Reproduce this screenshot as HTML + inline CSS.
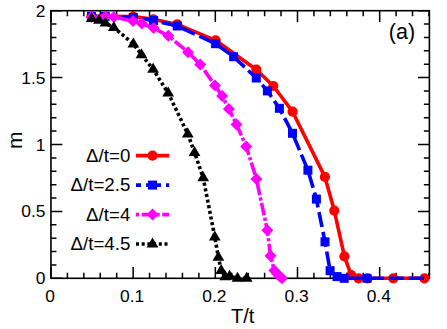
<!DOCTYPE html><html><head><meta charset="utf-8"><style>html,body{margin:0;padding:0;background:#fff}svg{display:block}</style></head><body><svg width="447" height="329" viewBox="0 0 447 329">
<rect width="447" height="329" fill="#fff"/>
<defs><clipPath id="c"><rect x="50.95" y="4.699999999999999" width="384.45" height="279.6"/></clipPath></defs>
<path d="M50.95,278.3v-11.4M50.95,10.7v11.4M67.39,278.3v-5.5M67.39,10.7v5.5M83.82,278.3v-5.5M83.82,10.7v5.5M100.26,278.3v-5.5M100.26,10.7v5.5M116.69,278.3v-5.5M116.69,10.7v5.5M133.13,278.3v-11.4M133.13,10.7v11.4M149.57,278.3v-5.5M149.57,10.7v5.5M166.00,278.3v-5.5M166.00,10.7v5.5M182.44,278.3v-5.5M182.44,10.7v5.5M198.87,278.3v-5.5M198.87,10.7v5.5M215.31,278.3v-11.4M215.31,10.7v11.4M231.75,278.3v-5.5M231.75,10.7v5.5M248.18,278.3v-5.5M248.18,10.7v5.5M264.62,278.3v-5.5M264.62,10.7v5.5M281.05,278.3v-5.5M281.05,10.7v5.5M297.49,278.3v-11.4M297.49,10.7v11.4M313.93,278.3v-5.5M313.93,10.7v5.5M330.36,278.3v-5.5M330.36,10.7v5.5M346.80,278.3v-5.5M346.80,10.7v5.5M363.23,278.3v-5.5M363.23,10.7v5.5M379.67,278.3v-11.4M379.67,10.7v11.4M396.11,278.3v-5.5M396.11,10.7v5.5M412.54,278.3v-5.5M412.54,10.7v5.5M428.98,278.3v-5.5M428.98,10.7v5.5M50.95,278.30h11.4M429.4,278.30h-11.4M50.95,264.92h5.5M429.4,264.92h-5.5M50.95,251.54h5.5M429.4,251.54h-5.5M50.95,238.16h5.5M429.4,238.16h-5.5M50.95,224.78h5.5M429.4,224.78h-5.5M50.95,211.40h11.4M429.4,211.40h-11.4M50.95,198.02h5.5M429.4,198.02h-5.5M50.95,184.64h5.5M429.4,184.64h-5.5M50.95,171.26h5.5M429.4,171.26h-5.5M50.95,157.88h5.5M429.4,157.88h-5.5M50.95,144.50h11.4M429.4,144.50h-11.4M50.95,131.12h5.5M429.4,131.12h-5.5M50.95,117.74h5.5M429.4,117.74h-5.5M50.95,104.36h5.5M429.4,104.36h-5.5M50.95,90.98h5.5M429.4,90.98h-5.5M50.95,77.60h11.4M429.4,77.60h-11.4M50.95,64.22h5.5M429.4,64.22h-5.5M50.95,50.84h5.5M429.4,50.84h-5.5M50.95,37.46h5.5M429.4,37.46h-5.5M50.95,24.08h5.5M429.4,24.08h-5.5M50.95,10.70h11.4M429.4,10.70h-11.4" stroke="#000" stroke-width="1.5" fill="none"/>
<rect x="50.95" y="10.7" width="378.45" height="267.6" fill="none" stroke="#000" stroke-width="1.6"/>
<g clip-path="url(#c)">
<polyline points="91.4,16.3 133.2,16.6 153.3,19.3 177.2,24.4 215.6,40.3 256.4,69.7 273.3,86.0 292.6,111.7 324.9,176.9 334.3,210.6 344.4,256.3 351.2,275.2 358.5,278.3 367.5,278.3 393.3,278.3 424.4,278.3" fill="none" stroke="#f00" stroke-width="3.6" stroke-linejoin="round"/>
<circle cx="91.4" cy="16.3" r="5.1" fill="#f00"/>
<circle cx="133.2" cy="16.6" r="5.1" fill="#f00"/>
<circle cx="153.3" cy="19.3" r="5.1" fill="#f00"/>
<circle cx="177.2" cy="24.4" r="5.1" fill="#f00"/>
<circle cx="215.6" cy="40.3" r="5.1" fill="#f00"/>
<circle cx="256.4" cy="69.7" r="5.1" fill="#f00"/>
<circle cx="273.3" cy="86" r="5.1" fill="#f00"/>
<circle cx="292.6" cy="111.7" r="5.1" fill="#f00"/>
<circle cx="324.9" cy="176.9" r="5.1" fill="#f00"/>
<circle cx="334.3" cy="210.6" r="5.1" fill="#f00"/>
<circle cx="344.4" cy="256.3" r="5.1" fill="#f00"/>
<circle cx="351.2" cy="275.2" r="5.1" fill="#f00"/>
<circle cx="358.5" cy="278.3" r="5.1" fill="#f00"/>
<circle cx="367.5" cy="278.3" r="5.1" fill="#f00"/>
<circle cx="393.3" cy="278.3" r="5.1" fill="#f00"/>
<circle cx="424.4" cy="278.3" r="5.1" fill="#f00"/>
<polyline points="91.5,16.4 105.2,16.4 133.3,17.5 153.6,20.5 177.2,26.0 215.6,43.7 233.6,56.7 256.3,78.0 267.4,90.9 279.4,108.3 292.5,133.3 307.9,170.2 316.4,199.1 325.0,241.8 330.1,270.7 337.0,276.6 344.2,278.3 367.0,278.3 424.4,278.3" fill="none" stroke="#00f" stroke-width="3.6" stroke-dasharray="15.2 4.89" stroke-dashoffset="9.6" stroke-linejoin="round"/>
<rect x="87.0" y="11.9" width="9" height="9" fill="#00f"/>
<rect x="100.7" y="11.9" width="9" height="9" fill="#00f"/>
<rect x="128.8" y="13.0" width="9" height="9" fill="#00f"/>
<rect x="149.1" y="16.0" width="9" height="9" fill="#00f"/>
<rect x="172.7" y="21.5" width="9" height="9" fill="#00f"/>
<rect x="211.1" y="39.2" width="9" height="9" fill="#00f"/>
<rect x="229.1" y="52.2" width="9" height="9" fill="#00f"/>
<rect x="251.8" y="73.5" width="9" height="9" fill="#00f"/>
<rect x="262.9" y="86.4" width="9" height="9" fill="#00f"/>
<rect x="274.9" y="103.8" width="9" height="9" fill="#00f"/>
<rect x="288.0" y="128.8" width="9" height="9" fill="#00f"/>
<rect x="303.4" y="165.7" width="9" height="9" fill="#00f"/>
<rect x="311.9" y="194.6" width="9" height="9" fill="#00f"/>
<rect x="320.5" y="237.3" width="9" height="9" fill="#00f"/>
<rect x="325.6" y="266.2" width="9" height="9" fill="#00f"/>
<rect x="332.5" y="272.1" width="9" height="9" fill="#00f"/>
<rect x="339.7" y="273.8" width="9" height="9" fill="#00f"/>
<rect x="362.5" y="273.8" width="9" height="9" fill="#00f"/>
<polyline points="91.6,16.9 105.3,16.5 113.8,17.1 133.0,21.1 141.8,23.6 153.6,28.0 168.3,35.8 188.0,52.2 200.2,64.4 215.0,85.5 222.1,96.0 228.9,108.9 236.5,124.6 246.2,146.4 256.4,179.0 267.3,230.2 270.5,255.7 274.3,270.5 277.0,273.7 279.5,276.2 282.0,278.3" fill="none" stroke="#f0f" stroke-width="3.6" stroke-dasharray="3.2 2.4 12.8 2.4" stroke-linejoin="round"/>
<path d="M85.6,16.9L91.6,10.9L97.6,16.9L91.6,22.9z" fill="#f0f"/>
<path d="M99.3,16.5L105.3,10.5L111.3,16.5L105.3,22.5z" fill="#f0f"/>
<path d="M107.8,17.1L113.8,11.1L119.8,17.1L113.8,23.1z" fill="#f0f"/>
<path d="M127.0,21.1L133.0,15.1L139.0,21.1L133.0,27.1z" fill="#f0f"/>
<path d="M135.8,23.6L141.8,17.6L147.8,23.6L141.8,29.6z" fill="#f0f"/>
<path d="M147.6,28.0L153.6,22.0L159.6,28.0L153.6,34.0z" fill="#f0f"/>
<path d="M162.3,35.8L168.3,29.8L174.3,35.8L168.3,41.8z" fill="#f0f"/>
<path d="M182.0,52.2L188.0,46.2L194.0,52.2L188.0,58.2z" fill="#f0f"/>
<path d="M194.2,64.4L200.2,58.4L206.2,64.4L200.2,70.4z" fill="#f0f"/>
<path d="M209.0,85.5L215.0,79.5L221.0,85.5L215.0,91.5z" fill="#f0f"/>
<path d="M216.1,96.0L222.1,90.0L228.1,96.0L222.1,102.0z" fill="#f0f"/>
<path d="M222.9,108.9L228.9,102.9L234.9,108.9L228.9,114.9z" fill="#f0f"/>
<path d="M230.5,124.6L236.5,118.6L242.5,124.6L236.5,130.6z" fill="#f0f"/>
<path d="M240.2,146.4L246.2,140.4L252.2,146.4L246.2,152.4z" fill="#f0f"/>
<path d="M250.4,179.0L256.4,173.0L262.4,179.0L256.4,185.0z" fill="#f0f"/>
<path d="M261.3,230.2L267.3,224.2L273.3,230.2L267.3,236.2z" fill="#f0f"/>
<path d="M264.5,255.7L270.5,249.7L276.5,255.7L270.5,261.7z" fill="#f0f"/>
<path d="M268.3,270.5L274.3,264.5L280.3,270.5L274.3,276.5z" fill="#f0f"/>
<path d="M271.0,273.7L277.0,267.7L283.0,273.7L277.0,279.7z" fill="#f0f"/>
<path d="M273.5,276.2L279.5,270.2L285.5,276.2L279.5,282.2z" fill="#f0f"/>
<path d="M276.0,278.3L282.0,272.3L288.0,278.3L282.0,284.3z" fill="#f0f"/>
<polyline points="91.7,18.4 99.0,20.3 105.4,23.1 113.8,27.6 133.4,43.9 141.5,54.7 153.1,69.3 168.2,93.1 187.8,134.0 194.5,152.4 203.2,177.8 214.8,237.0 218.4,257.3 221.2,270.4 225.2,276.7 229.6,276.2 237.5,278.2 246.7,278.2" fill="none" stroke="#000" stroke-width="3.6" stroke-dasharray="3.1 2.64" stroke-linejoin="round"/>
<path d="M85.8,21.9L91.7,11.9L97.6,21.9z" fill="#000"/>
<path d="M93.1,23.8L99.0,13.8L104.9,23.8z" fill="#000"/>
<path d="M99.5,26.6L105.4,16.6L111.3,26.6z" fill="#000"/>
<path d="M107.9,31.1L113.8,21.1L119.7,31.1z" fill="#000"/>
<path d="M127.5,47.4L133.4,37.4L139.3,47.4z" fill="#000"/>
<path d="M135.6,58.2L141.5,48.2L147.4,58.2z" fill="#000"/>
<path d="M147.2,72.8L153.1,62.8L159.0,72.8z" fill="#000"/>
<path d="M162.3,96.6L168.2,86.6L174.1,96.6z" fill="#000"/>
<path d="M181.9,137.5L187.8,127.5L193.7,137.5z" fill="#000"/>
<path d="M188.6,155.9L194.5,145.9L200.4,155.9z" fill="#000"/>
<path d="M197.3,181.3L203.2,171.3L209.1,181.3z" fill="#000"/>
<path d="M208.9,240.5L214.8,230.5L220.7,240.5z" fill="#000"/>
<path d="M212.5,260.8L218.4,250.8L224.3,260.8z" fill="#000"/>
<path d="M215.3,273.9L221.2,263.9L227.1,273.9z" fill="#000"/>
<path d="M219.3,280.2L225.2,270.2L231.1,280.2z" fill="#000"/>
<path d="M223.7,279.7L229.6,269.7L235.5,279.7z" fill="#000"/>
<path d="M231.6,281.7L237.5,271.7L243.4,281.7z" fill="#000"/>
<path d="M240.8,281.7L246.7,271.7L252.6,281.7z" fill="#000"/>
</g>
<path d="M136,155.6H169.2" stroke="#f00" stroke-width="3.6"/><circle cx="152.5" cy="155.6" r="5.1" fill="#f00"/>
<path d="M136,185.1h5M146,185.1h15M166,185.1h3.2" stroke="#00f" stroke-width="3.6"/><rect x="147.9" y="180.6" width="9.1" height="9" fill="#00f"/>
<path d="M135.8,214.6H139M141.7,214.6H159.7M162.2,214.6H169.2" stroke="#f0f" stroke-width="3.6"/><path d="M146.5,214.6l6,-6l6,6l-6,6z" fill="#f0f"/>
<path d="M136,244.0H169.2" stroke="#000" stroke-width="3.6" stroke-dasharray="3 2.7"/><path d="M146.6,247.5l5.9,-10l5.9,10z" fill="#000"/>
<g font-family="Liberation Sans, sans-serif" font-size="17.4" fill="#000">
<text x="50.1" y="302.3" text-anchor="middle">0</text>
<text x="132.2" y="302.3" text-anchor="middle">0.1</text>
<text x="214.4" y="302.3" text-anchor="middle">0.2</text>
<text x="296.6" y="302.3" text-anchor="middle">0.3</text>
<text x="378.8" y="302.3" text-anchor="middle">0.4</text>
<text x="45.5" y="284.3" text-anchor="end">0</text>
<text x="45.5" y="217.4" text-anchor="end">0.5</text>
<text x="45.5" y="150.5" text-anchor="end">1</text>
<text x="45.5" y="83.6" text-anchor="end">1.5</text>
<text x="45.5" y="16.7" text-anchor="end">2</text>
<text x="130.3" y="161.9" text-anchor="end" font-size="18.7">Δ/t=0</text>
<text x="130.3" y="191.4" text-anchor="end" font-size="18.7">Δ/t=2.5</text>
<text x="130.3" y="220.9" text-anchor="end" font-size="18.7">Δ/t=4</text>
<text x="130.3" y="250.3" text-anchor="end" font-size="18.7">Δ/t=4.5</text>
<text x="242.7" y="323" text-anchor="middle" font-size="20">T/t</text>
<text x="402" y="38.6" text-anchor="middle" font-size="21.5">(a)</text>
<text transform="translate(22,140.3) rotate(-90)" text-anchor="middle" font-size="21">m</text>
</g>
</svg></body></html>
